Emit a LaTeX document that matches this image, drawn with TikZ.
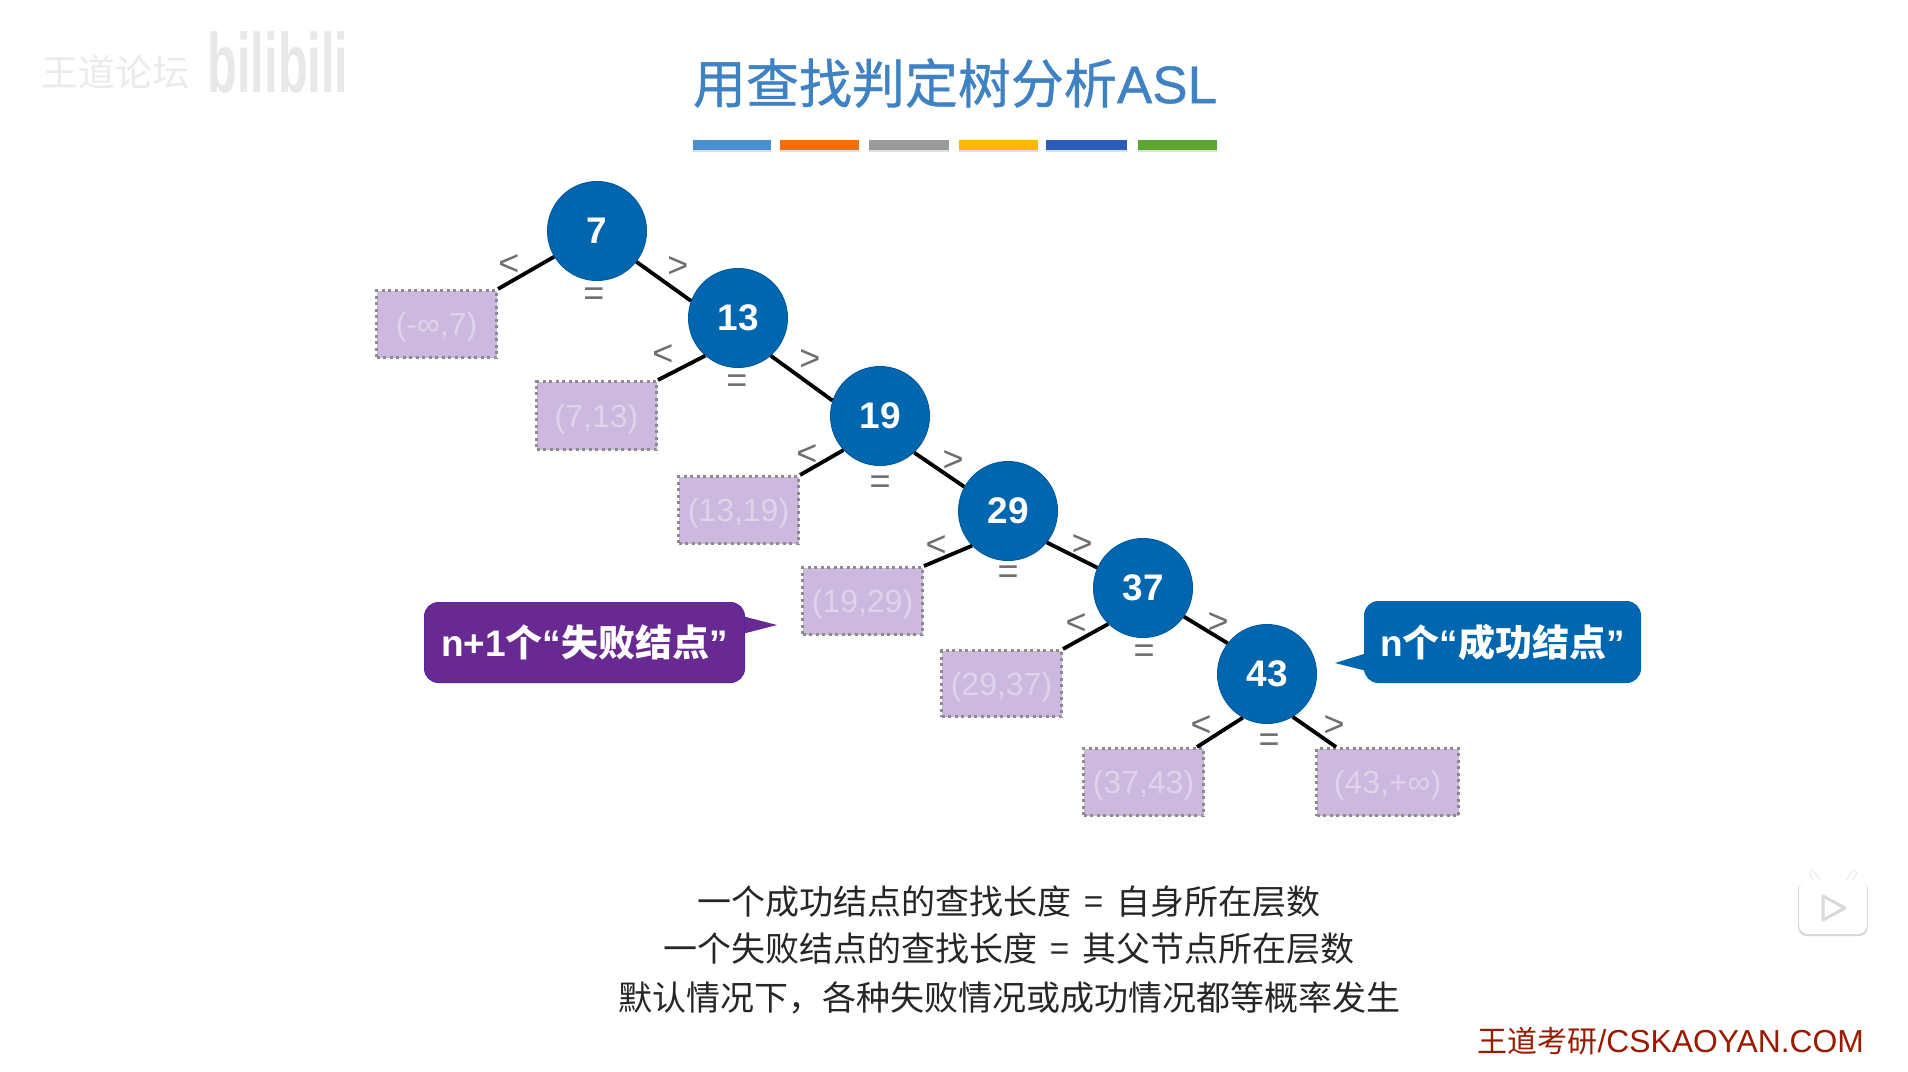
\documentclass[tikz,border=0pt]{standalone}
\usepackage{fontspec}
\setmainfont{Liberation Sans}
\newfontfamily\cjk{Noto Sans CJK SC}
\newfontfamily\cjkhead[FakeBold=0.7]{Noto Sans CJK SC}
\newfontfamily\lathead[FakeBold=0.7]{Liberation Sans}
\newcommand{\fsz}[1]{\fontsize{#1}{#1}\selectfont}
\definecolor{nodeblue}{HTML}{0066B0}
\definecolor{titleblue}{HTML}{3F82C4}
\definecolor{boxfill}{HTML}{CDB9DF}
\definecolor{boxtext}{HTML}{DFD3EA}
\definecolor{calloutpurple}{HTML}{682A92}
\definecolor{markgray}{HTML}{6E6E6E}
\definecolor{footred}{HTML}{9A1A00}
\tikzset{
  succnode/.style={circle,draw=nodeblue!90!black,line width=1pt,fill=nodeblue,minimum size=99pt,inner sep=0pt,text=white,font=\fsz{37}\bfseries},
  failnode/.style={rectangle,draw=gray!90,fill=boxfill,line width=3pt,dash pattern=on 3pt off 3.5pt,inner sep=0pt,text=boxtext,font=\fsz{32},text height=23pt,text depth=0pt,anchor=north west},
  treeedge/.style={black,line width=3.8pt},
  branchmark/.style={text=markgray,font=\fsz{36},inner sep=0pt},
  colorbar/.style={minimum height=10pt,inner sep=0pt,anchor=north west,rectangle},
  bubble/.style={rectangle,rounded corners=14pt,inner sep=0pt,text=white,anchor=north west,font=\fsz{37}\bfseries},
  bodyline/.style={font=\fsz{34},text=black!85,inner sep=0pt,anchor=center},
}
\begin{document}
\begin{tikzpicture}[x=1pt,y=-1pt]
\useasboundingbox (0,0) rectangle (1908,1071);
\fill[white] (0,0) rectangle (1908,1071);
% watermark
\node[inner sep=0pt,text=black!8,font=\fsz{37}\cjk] (wm1) at (115,72) {王道论坛};
\node[inner sep=0pt,text=black!9,font=\fsz{84}\bfseries,xscale=.58,transform shape] (wm2) at (278,62) {bilibili};
% title
\node[inner sep=0pt,text=titleblue,font=\fsz{53}] (title) at (955,83) {{\cjkhead 用查找判定树分析}{\lathead ASL}};
\foreach \n/\xa/\w/\c in {a/693/78/4A90D0,b/780/79/F07010,c/869/80/9A9A9A,d/959/79/FFB800,e/1046/81/2A5CB8,f/1138/79/5CA52F}{
  \definecolor{barc}{HTML}{\c}
  \fill[black!12] (\xa,142) rectangle +(\w,10);
  \node[colorbar,fill=barc,minimum width=\w pt] (bar\n) at (\xa,140) {};
}
% success nodes
\node[succnode] (n7)  at (597,231) {7};
\node[succnode] (n13) at (738,318) {13};
\node[succnode] (n19) at (880,416) {19};
\node[succnode] (n29) at (1008,511) {29};
\node[succnode] (n37) at (1143,588) {37};
\node[succnode] (n43) at (1267,674) {43};
% failure nodes
\node[failnode,minimum width=120pt,minimum height=67pt] (f1) at (375,289) {(-∞,7)};
\node[failnode,minimum width=120pt,minimum height=68pt] (f2) at (535,380) {(7,13)};
\node[failnode,minimum width=120pt,minimum height=67pt] (f3) at (677,475) {(13,19)};
\node[failnode,minimum width=120pt,minimum height=67pt] (f4) at (801,566) {(19,29)};
\node[failnode,minimum width=120pt,minimum height=66pt] (f5) at (940,649) {(29,37)};
\node[failnode,minimum width=120pt,minimum height=67pt] (f6) at (1082,747) {(37,43)};
\node[failnode,minimum width=142pt,minimum height=67pt] (f7) at (1315,747) {(43,+∞)};
% edges
\draw[treeedge] (n7.211) -- (f1.north east);
\draw[treeedge] (n7.-38) -- (n13.160);
\draw[treeedge] (n13.229) -- (f2.north east);
\draw[treeedge] (n13.-49) -- (n19.162);
\draw[treeedge] (n19.223) -- (f3.north east);
\draw[treeedge] (n19.-47) -- (n29.151);
\draw[treeedge] (n29.224) -- (f4.north east);
\draw[treeedge] (n29.-39) -- (n37.156);
\draw[treeedge] (n37.226) -- (f5.north east);
\draw[treeedge] (n37.-35) -- (n43.142);
\draw[treeedge] (n43.241) -- ([xshift=-8pt]f6.north east);
\draw[treeedge] (n43.-59) -- ([xshift=21pt]f7.north west);
% branch marks
\foreach \i/\lx/\ly/\rx/\ry/\ex/\ey in {1/509/265/678/267/594/297,2/663/355/810/360/737/384,3/807/455/953/461/880/485,4/936/546/1082/545/1008/575,5/1076/624/1218/623/1144/654,6/1201/726/1334/726/1269/743}{
  \node[branchmark] (lt\i) at (\lx,\ly) {<};
  \node[branchmark] (gt\i) at (\rx,\ry) {>};
  \node[branchmark] (eq\i) at (\ex,\ey) {=};
}
% callouts
\fill[calloutpurple] (742,616) -- (777,625) -- (742,634) -- cycle;
\node[bubble,fill=calloutpurple,draw=calloutpurple!85!blue,line width=1pt,minimum width=320pt,minimum height=80pt] (c1) at (424,602) {n+1{\cjk 个}“{\cjk 失败结点}”};
\fill[nodeblue] (1367,653) -- (1335,663) -- (1367,671) -- cycle;
\node[bubble,fill=nodeblue,draw=nodeblue,line width=1pt,minimum width=276pt,minimum height=81pt] (c2) at (1364,601) {n{\cjk 个}“{\cjk 成功结点}”};
% body text
\node[bodyline] (t1) at (1009,902) {\cjk 一个成功结点的查找长度\hspace{5pt} = \hspace{5pt}自身所在层数};
\node[bodyline] (t2) at (1009,949) {\cjk 一个失败结点的查找长度\hspace{5pt} = \hspace{5pt}其父节点所在层数};
\node[bodyline] (t3) at (1009,998) {\cjk 默认情况下，各种失败情况或成功情况都等概率发生};
% footer
\node[inner sep=0pt,text=footred,font=\fsz{31.8},anchor=east] (foot) at (1864,1041) {{\cjk\fsz{30} 王道考研}/CSKAOYAN.COM};
% player logo
\draw[black!12,line width=6pt,line cap=round] (1817,881) -- (1812,873);
\draw[black!12,line width=6pt,line cap=round] (1849,881) -- (1854,873);
\fill[black!16,rounded corners=9pt] (1798,881) rectangle (1868,936);
\fill[white,rounded corners=9pt] (1799,880) rectangle (1867,934);
\draw[white,line width=4.5pt,line cap=round] (1817,881) -- (1812,873);
\draw[white,line width=4.5pt,line cap=round] (1849,881) -- (1854,873);
\draw[black!15,fill=white,line width=3pt,line join=round] (1823,896) -- (1845,908) -- (1823,920) -- cycle;
\end{tikzpicture}
\end{document}
